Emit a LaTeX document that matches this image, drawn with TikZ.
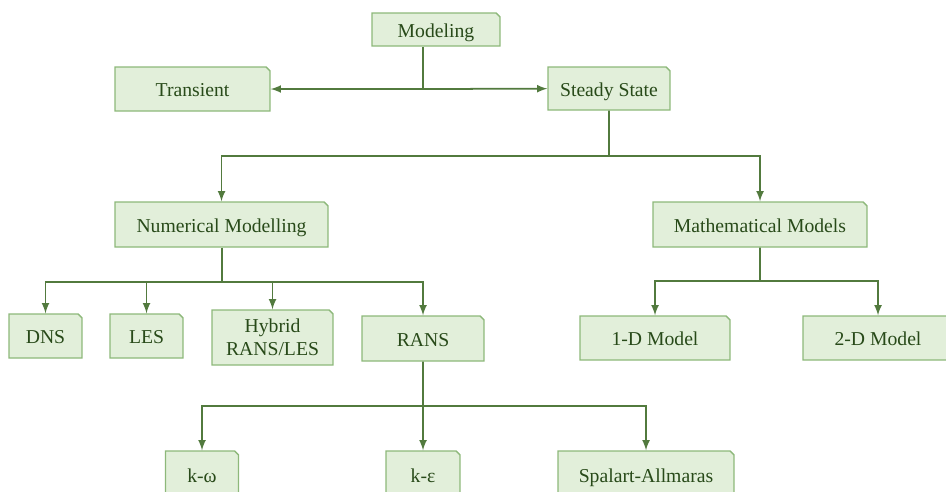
\documentclass[tikz,border=0pt]{standalone}
\usepackage{fontspec}
\setmainfont{Liberation Serif}
\usetikzlibrary{shapes.misc}

\definecolor{boxfill}{HTML}{E2EFDA}
\definecolor{boxline}{HTML}{8DB87A}
\definecolor{boxtext}{HTML}{284A19}
\definecolor{linkcol}{HTML}{527A3E}

\tikzset{
	box/.style={chamfered rectangle, chamfered rectangle corners=north east,
		chamfered rectangle xsep=1.1pt, chamfered rectangle ysep=1.1pt,
		draw=boxline, fill=boxfill, line width=0.8pt, text=boxtext,
		inner sep=0pt, align=center, text height=2.1ex, text depth=0.2ex,
		font=\fontsize{11.2}{13}\selectfont},
	link/.style={draw=linkcol, line width=1pt},
	arr/.style={link, -latex}
}

\begin{document}
\begin{tikzpicture}[x=0.02cm, y=-0.02cm]
\clip (0,0) rectangle (946,491);

% top level
\node[box, minimum width=2.56cm, minimum height=0.66cm] (model) at (436,29.5) {Modeling};
\node[box, minimum width=3.10cm, minimum height=0.88cm] (trans) at (192.5,89) {Transient};
\node[box, minimum width=2.44cm, minimum height=0.86cm] (steady) at (609,88.5) {Steady State};

% second level
\node[box, minimum width=4.26cm, minimum height=0.90cm] (num) at (221.5,224.5) {Numerical Modelling};
\node[box, minimum width=4.28cm, minimum height=0.90cm] (math) at (760,224.5) {Mathematical Models};

% numerical methods
\node[box, minimum width=1.46cm, minimum height=0.88cm] (dns) at (45.5,336) {DNS};
\node[box, minimum width=1.46cm, minimum height=0.88cm] (les) at (146.5,336) {LES};
\node[box, minimum width=2.42cm, minimum height=1.10cm, text height=, text depth=] (hyb) at (272.5,337.5) {Hybrid\\RANS/LES};
\node[box, minimum width=2.44cm, minimum height=0.90cm] (rans) at (423,338.5) {RANS};

% mathematical models
\node[box, minimum width=3.00cm, minimum height=0.88cm] (oned) at (655,338) {1-D Model};
\node[box, minimum width=3.00cm, minimum height=0.88cm] (twod) at (878,338) {2-D Model};

% RANS closures
\node[box, minimum width=1.46cm, minimum height=0.96cm] (kw) at (202,475) {k-ω};
\node[box, minimum width=1.48cm, minimum height=0.96cm] (ke) at (423,475) {k-ε};
\node[box, minimum width=3.52cm, minimum height=0.96cm] (spal) at (646,475) {Spalart-Allmaras};

% junctions
\coordinate (j0) at (423,89);
\coordinate (j1) at (609,156);
\coordinate (j2) at (222,282);
\coordinate (j3) at (760,281);
\coordinate (j4) at (423,406);

\draw[link] (model.south -| j0) -- (j0);
\draw[arr] (j0) -- (trans);
\draw[arr] (j0) -- (steady);

\draw[link] (steady) -- (j1);
\draw[arr] (j1) -| (num);
\draw[arr] (j1) -| (math);

\draw[link] (num.south -| j2) -- (j2);
\draw[arr] (j2) -| (dns);
\draw[arr] (j2) -| (les);
\draw[arr] (j2) -| (hyb);
\draw[arr] (j2) -| (rans);

\draw[link] (math) -- (j3);
\draw[arr] (j3) -| (oned);
\draw[arr] (j3) -| (twod);

\draw[link] (rans) -- (j4);
\draw[arr] (j4) -| (kw);
\draw[arr] (j4) -| (ke);
\draw[arr] (j4) -| (spal);
\end{tikzpicture}
\end{document}
